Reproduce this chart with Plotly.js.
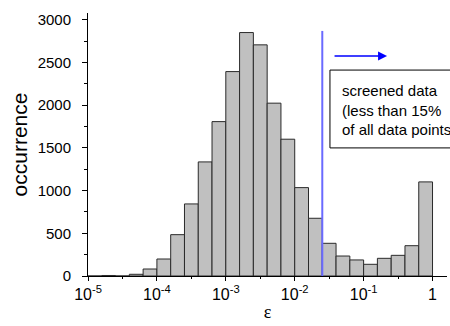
<!DOCTYPE html>
<html>
<head>
<meta charset="utf-8">
<script src="https://cdn.plot.ly/plotly-3.0.1.min.js"></script>
<style>
  html, body { margin: 0; padding: 0; background: #fff; }
  #chart { width: 450px; height: 326px; }
</style>
</head>
<body>
<div id="chart"></div>
<script>
// Histogram bins: lower edge of each bin as a power of ten (0.2 decade wide)
const binLowExp = [-5.0, -4.8, -4.6, -4.4, -4.2, -4.0, -3.8, -3.6, -3.4, -3.2,
                   -3.0, -2.8, -2.6, -2.4, -2.2, -2.0, -1.8, -1.6, -1.4, -1.2,
                   -1.0, -0.8, -0.6, -0.4, -0.2];
const binWidthExp = 0.2;
// Occurrence count per bin
const counts = [0, 6, 0, 20, 82, 199, 484, 844, 1336, 1808,
                2394, 2851, 2707, 2024, 1602, 1035, 676, 383, 234, 188,
                137, 207, 242, 355, 1102];

// Screening threshold on epsilon
const cutoff = Math.pow(10, -1.6);
const cutoffLineTop = 2870;

// Axis ticks
const xTickVals = [1e-5, 1e-4, 1e-3, 1e-2, 1e-1, 1];
const xTickText = ['10<sup>-5</sup>', '10<sup>-4</sup>', '10<sup>-3</sup>',
                   '10<sup>-2</sup>', '10<sup>-1</sup>', '1'];
const xMinorExp = [-4.5, -3.5, -2.5, -1.5, -0.5];
const yTickVals = [0, 500, 1000, 1500, 2000, 2500, 3000];

// Bar extents in data units; the log axis maps them to equal-width bins
const binLo = binLowExp.map(e => Math.pow(10, e));
const binHi = binLowExp.map(e => Math.pow(10, e + binWidthExp));

const bars = {
  type: 'bar',
  x: binLo.map((lo, i) => (lo + binHi[i]) / 2),
  y: counts,
  width: binLo.map((lo, i) => binHi[i] - lo),
  marker: { color: '#c0c0c0', line: { color: '#2a2a2a', width: 1 } },
  hoverinfo: 'x+y'
};

const threshold = {
  type: 'scatter',
  mode: 'lines',
  x: [cutoff, cutoff],
  y: [0, cutoffLineTop],
  line: { color: '#6a6aff', width: 2 },
  hoverinfo: 'skip'
};

const font = 'Liberation Sans, Arial, sans-serif';

const layout = {
  width: 450,
  height: 326,
  margin: { l: 88, r: 3, t: 13, b: 50 },
  paper_bgcolor: '#fff',
  plot_bgcolor: '#fff',
  showlegend: false,
  bargap: 0,
  font: { family: font, color: '#000', size: 15 },
  xaxis: {
    type: 'log',
    range: [-5, 0.21],
    tickmode: 'array',
    tickvals: xTickVals,
    ticktext: xTickText,
    tickfont: { size: 16 },
    ticks: 'outside',
    ticklen: 4,
    tickwidth: 1,
    tickcolor: '#000',
    minor: {
      tickmode: 'array',
      tickvals: xMinorExp.map(e => Math.pow(10, e)),
      ticks: 'outside',
      ticklen: 2,
      tickcolor: '#000',
      showgrid: false
    },
    showline: true,
    linecolor: '#000',
    linewidth: 1,
    showgrid: false,
    zeroline: false,
    automargin: true,
    title: { text: 'ε', font: { family: 'Liberation Serif, DejaVu Serif, serif', size: 18 }, standoff: 3 }
  },
  yaxis: {
    range: [0, 3080],
    tickmode: 'array',
    tickvals: yTickVals,
    tickfont: { size: 15 },
    ticks: 'outside',
    ticklen: 5,
    tickwidth: 1,
    tickcolor: '#000',
    ticklabelstandoff: 8,
    minor: { dtick: 250, ticks: 'outside', ticklen: 3, tickcolor: '#000', showgrid: false },
    showline: true,
    linecolor: '#000',
    linewidth: 1,
    showgrid: false,
    zeroline: false,
    title: { text: 'occurrence', font: { size: 21 }, standoff: 4 }
  },
  shapes: [
    {
      type: 'rect', xref: 'paper', yref: 'paper',
      x0: 0.674, x1: 1.2, y0: 0.487, y1: 0.783,
      line: { color: '#000', width: 1 }, fillcolor: 'rgba(0,0,0,0)'
    }
  ],
  annotations: [
    {
      xref: 'paper', yref: 'paper',
      x: 0.702, y: 0.631, xanchor: 'left', yanchor: 'middle', align: 'left',
      text: 'screened data<br>(less than 15%<br>of all data points)',
      showarrow: false,
      font: { size: 15, color: '#000' }
    },
    {
      xref: 'paper', yref: 'paper',
      x: 0.833, y: 0.8365, ax: -54, ay: 0,
      text: '',
      showarrow: true,
      arrowhead: 2, arrowsize: 1.2, arrowwidth: 1.5, arrowcolor: '#0000ff'
    }
  ]
};

Plotly.newPlot('chart', [bars, threshold], layout, { staticPlot: true, displayModeBar: false });
</script>
</body>
</html>
